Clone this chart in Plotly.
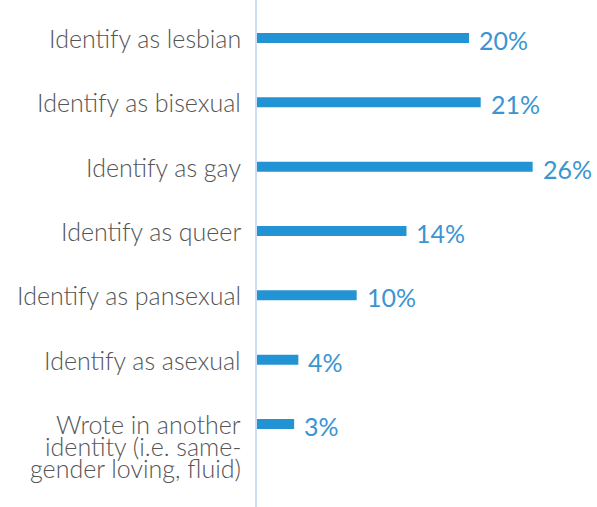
import plotly.graph_objects as go

categories = [
    "Identify as lesbian",
    "Identify as bisexual",
    "Identify as gay",
    "Identify as queer",
    "Identify as pansexual",
    "Identify as asexual",
    "Wrote in another<br>identity (i.e. same-<br>gender loving, fluid)",
]
values = [20.0, 21.1, 26.0, 14.1, 9.4, 3.9, 3.5]
value_labels = ["20%", "21%", "26%", "14%", "10%", "4%", "3%"]

BAR = "#2394d3"
TXT = "#3a95d1"
GRAY = "#555555"
FONT = "Lato"

idx = list(range(len(categories)))

fig = go.Figure()
fig.add_trace(go.Bar(
    x=values, y=idx, orientation="h",
    marker=dict(color=BAR, line=dict(width=0)),
    width=0.155,
    hoverinfo="skip",
))

annotations = []
for i, cat in enumerate(categories):
    lines = cat.split("<br>")
    for k, ln in enumerate(lines):
        annotations.append(dict(
            x=0, xref="paper", y=i, yref="y",
            text=ln, showarrow=False,
            xanchor="right", yanchor="middle",
            xshift=-14, yshift=-k * 22,
            font=dict(color=GRAY, size=25, family=FONT, weight=300),
        ))
for i, (v, lab) in enumerate(zip(values, value_labels)):
    annotations.append(dict(
        x=v, xref="x", y=i, yref="y",
        text=lab, showarrow=False,
        xanchor="left", yanchor="middle",
        xshift=8, yshift=-2,
        font=dict(color=TXT, size=25, family=FONT, weight=400),
    ))

fig.update_layout(
    width=597, height=507,
    margin=dict(l=257, r=0, t=0, b=0),
    paper_bgcolor="white", plot_bgcolor="white",
    showlegend=False,
    annotations=annotations,
    xaxis=dict(range=[0, 32.07], visible=False, fixedrange=True),
    yaxis=dict(range=[7.29, -0.591], showticklabels=False, showgrid=False,
               zeroline=False, showline=True, linecolor="#c9def0", linewidth=1.5,
               ticks="", fixedrange=True),
)

fig.write_html("out.html")
